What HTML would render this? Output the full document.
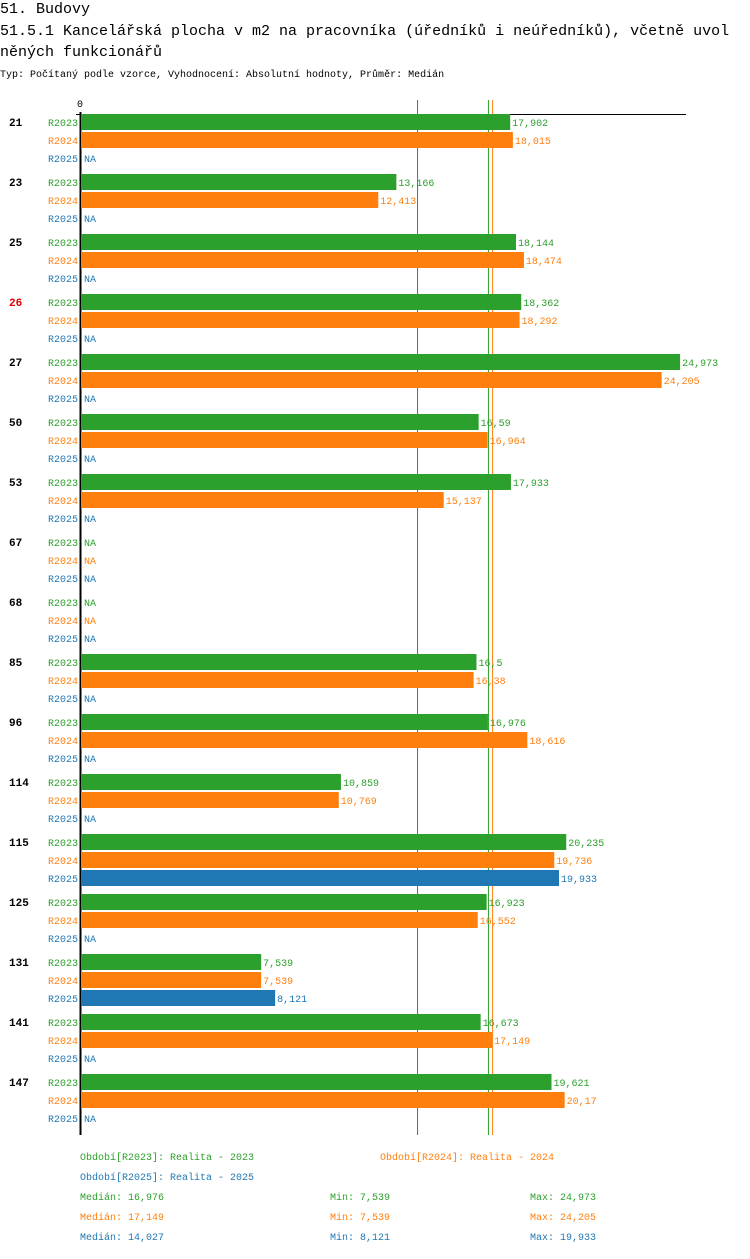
<!DOCTYPE html>
<html><head><meta charset="utf-8">
<style>
body{margin:0;background:#fff;width:750px;height:1254px;overflow:hidden;font-family:"Liberation Mono",monospace;}
svg text{font-family:"Liberation Mono",monospace;}
</style></head>
<body>
<svg id="chart" width="750" height="1254" xmlns="http://www.w3.org/2000/svg">
<text x="0" y="13" font-size="15" fill="#000">51. Budovy</text>
<text x="0" y="35" font-size="15" fill="#000">51.5.1 Kancelářská plocha v m2 na pracovníka (úředníků i neúředníků), včetně uvol</text>
<text x="0" y="56" font-size="15" fill="#000">něných funkcionářů</text>
<text x="0" y="77" font-size="10" fill="#000">Typ: Počítaný podle vzorce, Vyhodnocení: Absolutní hodnoty, Průměr: Medián</text>
<g id="plot"></g>
<g id="legend"></g>
</svg>
<script>
const cats = ["21","23","25","26","27","50","53","67","68","85","96","114","115","125","131","141","147"];
const v2023 = [17.902,13.166,18.144,18.362,24.973,16.59,17.933,null,null,16.5,16.976,10.859,20.235,16.923,7.539,16.673,19.621];
const v2024 = [18.015,12.413,18.474,18.292,24.205,16.964,15.137,null,null,16.38,18.616,10.769,19.736,16.552,7.539,17.149,20.17];
const v2025 = [null,null,null,null,null,null,null,null,null,null,null,null,19.933,null,8.121,null,null];
const seriesNames = ["R2023","R2024","R2025"];
const medians = [16.976,17.149,14.027];
const mins = [7.539,7.539,8.121];
const maxs = [24.973,24.205,19.933];
const highlight = "26";

const colors = ["#2ca02c","#ff7f0e","#1f77b4"];
const NS = "http://www.w3.org/2000/svg";
const x0 = 80, pxPer = 24.03;
const xs = v => x0 + v * pxPer;
const groupY = i => 122 + i * 60;
const fmt = v => { let s = String(+v.toFixed(3)); return s.replace(".", ","); };
const plot = document.getElementById("plot");
function mk(tag, attrs, parent){ const e=document.createElementNS(NS,tag); for(const k in attrs) e.setAttribute(k,attrs[k]); (parent||plot).appendChild(e); return e; }

// median lines
const medColors = ["#2ca02c","#ff7f0e","#1f77b4"];
medians.forEach((m,k)=>{
  const l = mk("line",{x1:xs(m)+0.5,x2:xs(m)+0.5,y1:100,y2:1135,stroke:medColors[k],"stroke-width":1});
  
  
});
// axis
const ax = mk("line",{x1:80.5,x2:80.5,y1:112,y2:1135,stroke:"#000","stroke-width":2});


const tx = mk("line",{x1:76,x2:686,y1:114.5,y2:114.5,stroke:"#000","stroke-width":1});


const z = mk("text",{x:80,y:107,"font-size":10,"text-anchor":"middle",fill:"#000"});
z.textContent="0";



const series=[v2023,v2024,v2025];
cats.forEach((c,i)=>{
  const gy=groupY(i);
  const cl = mk("text",{x:9,y:gy+4,"font-size":11,"font-weight":"bold",fill:c===highlight?"#e00000":"#000"});
  cl.textContent=c;
  
  
  series.forEach((arr,k)=>{
    const cy=gy+k*18;
    const sl = mk("text",{x:78,y:cy+4,"font-size":10,"text-anchor":"end",fill:colors[k]});
    sl.textContent=seriesNames[k];
    
    
    const v=arr[i];
    if(v===null){
      const na = mk("text",{x:84,y:cy+4,"font-size":10,fill:colors[k]});
      na.textContent="NA";
      
      
    } else {
      const r = mk("rect",{x:81,y:cy-8,width:xs(v)-81,height:16,fill:colors[k]});
      
      
      const vl = mk("text",{x:xs(v)+2,y:cy+4,"font-size":10,fill:colors[k]});
      vl.textContent=fmt(v);
      
      
    }
  });
});

// legend
const lg=document.getElementById("legend");
function lt(x,y,txt,col,name){ const t=mk("text",{x:x,y:y+4,"font-size":10,fill:col},lg); t.textContent=txt;
  
   }
lt(80,1156,"Období[R2023]: Realita - 2023",colors[0],"legend-entry-r2023");
lt(380,1156,"Období[R2024]: Realita - 2024",colors[1],"legend-entry-r2024");
lt(80,1176,"Období[R2025]: Realita - 2025",colors[2],"legend-entry-r2025");
for(let k=0;k<3;k++){
  const y=1196+k*20;
  lt(80,y,"Medián: "+fmt(medians[k]),colors[k],"legend-median");
  lt(330,y,"Min: "+fmt(mins[k]),colors[k],"legend-min");
  lt(530,y,"Max: "+fmt(maxs[k]),colors[k],"legend-max");
}
</script>
</body></html>
